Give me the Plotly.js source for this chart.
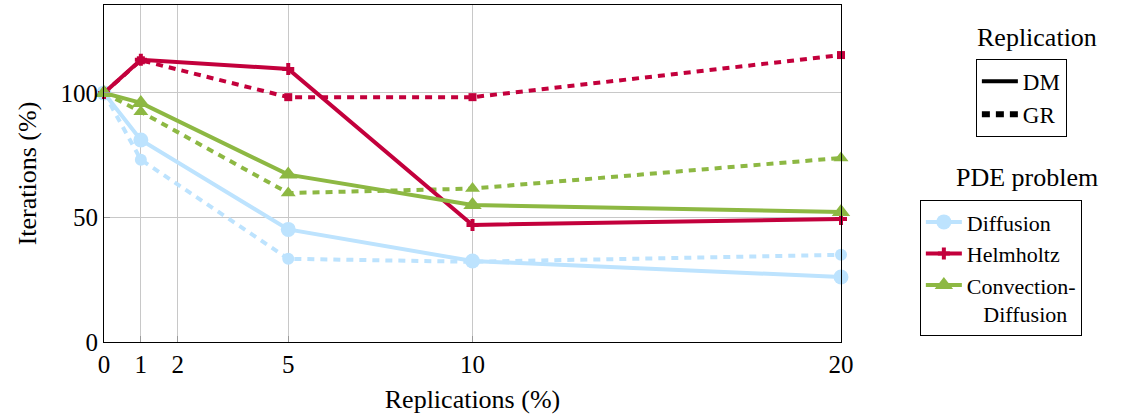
<!DOCTYPE html>
<html>
<head>
<meta charset="utf-8">
<script src="https://cdn.plot.ly/plotly-3.0.1.min.js"></script>
<style>
  html, body { margin: 0; padding: 0; background: #fff; }
  #chart { width: 1132px; height: 419px; }
  #chart text { font-family: 'Times New Roman', 'Liberation Serif', 'DejaVu Serif', serif !important; }
</style>
</head>
<body>
<div id="chart"></div>
<script>
// Replication percentages on the x axis
const replications = [0, 1, 2, 5, 10, 20];
const pointsX = [0, 1, 5, 10, 20];
const tickLabels = ['0', '1', '2', '5', '10', '20'];

// Relative iteration counts (%) per PDE problem and replication strategy
const diffusionDM = [100, 81.1, 45.2, 32.5, 26.1];
const diffusionGR = [100, 73.2, 33.4, 32.2, 35.0];
const helmholtzDM = [100, 113.3, 109.6, 47.0, 49.4];
const helmholtzGR = [100, 113.1, 98.3, 98.3, 115.2];
const convDiffDM = [100, 96.0, 67.2, 55.0, 52.2];
const convDiffGR = [100, 92.4, 59.8, 61.6, 73.9];

const colors = { diffusion: '#bde3fe', helmholtz: '#c3003c', convDiff: '#8db843' };
const dashPattern = '7px,6px';
const family = 'Times New Roman';
const txt = (size) => ({ family: family, size: size });

function series(y, color, symbol, size, dashed, name, show) {
  return {
    x: pointsX, y: y, type: 'scatter', mode: 'lines+markers', name: name,
    line: { color: color, width: 4, dash: dashed ? dashPattern : 'solid' },
    marker: { color: color, symbol: symbol, size: size, line: { width: 0 } },
    legend: 'legend2', showlegend: show, cliponaxis: false
  };
}

const traces = [
  // dashed (GR) runs underneath
  series(diffusionGR, colors.diffusion, 'circle', 12, true, 'Diffusion GR', false),
  series(convDiffGR, colors.convDiff, 'triangle-up', 13, true, 'Convection-Diffusion GR', false),
  series(helmholtzGR, colors.helmholtz, 'square', 8, true, 'Helmholtz GR', false),
  // solid (DM) runs
  series(diffusionDM, colors.diffusion, 'circle', 15, false, 'Diffusion', true),
  series(helmholtzDM, colors.helmholtz, 'cross', 10, false, 'Helmholtz', true),
  series(convDiffDM, colors.convDiff, 'triangle-up', 16, false, 'Convection-<br>\u00a0\u00a0\u00a0Diffusion', true),
  // replication-strategy key
  { x: [null], y: [null], type: 'scatter', mode: 'lines', name: 'DM',
    line: { color: '#000', width: 4 }, legend: 'legend', showlegend: true },
  { x: [null], y: [null], type: 'scatter', mode: 'lines', name: 'GR',
    line: { color: '#000', width: 6, dash: '8px,6px' }, legend: 'legend', showlegend: true }
];

const layout = {
  width: 1132, height: 419,
  margin: { l: 104, r: 291, t: 5, b: 77 },
  paper_bgcolor: '#fff', plot_bgcolor: '#fff',
  font: { family: family, size: 25, color: '#000' },
  showlegend: true,
  xaxis: {
    range: [0, 20], tickvals: replications, ticktext: tickLabels,
    showgrid: true, gridcolor: '#c8c8c8', gridwidth: 1,
    showline: true, linecolor: '#000', linewidth: 1, mirror: true,
    ticks: 'inside', ticklen: 6, tickcolor: '#9a9a9a', zeroline: false,
    tickfont: txt(25),
    title: { text: 'Replications (%)', font: txt(26), standoff: 12 }
  },
  yaxis: {
    range: [0, 135.3], tickvals: [0, 50, 100],
    showgrid: true, gridcolor: '#c8c8c8', gridwidth: 1,
    showline: true, linecolor: '#000', linewidth: 1, mirror: true,
    ticks: 'inside', ticklen: 6, tickcolor: '#9a9a9a', zeroline: false,
    tickfont: txt(25),
    title: { text: 'Iterations (%)', font: txt(26), standoff: 16 }
  },
  legend: {
    x: 1.183, y: 0.84, xanchor: 'left', yanchor: 'top',
    bordercolor: '#000', borderwidth: 1, bgcolor: '#fff',
    font: txt(23), itemwidth: 36
  },
  legend2: {
    x: 1.107, y: 0.421, xanchor: 'left', yanchor: 'top',
    bordercolor: '#000', borderwidth: 1, bgcolor: '#fff',
    font: txt(22), itemwidth: 36, valign: 'top'
  },
  annotations: [
    { text: 'Replication', xref: 'paper', yref: 'paper', x: 1.266, y: 0.905,
      xanchor: 'center', yanchor: 'middle', showarrow: false, font: txt(26) },
    { text: 'PDE problem', xref: 'paper', yref: 'paper', x: 1.252, y: 0.487,
      xanchor: 'center', yanchor: 'middle', showarrow: false, font: txt(26) }
  ]
};

Plotly.newPlot('chart', traces, layout, { displayModeBar: false, staticPlot: true });
</script>
</body>
</html>
